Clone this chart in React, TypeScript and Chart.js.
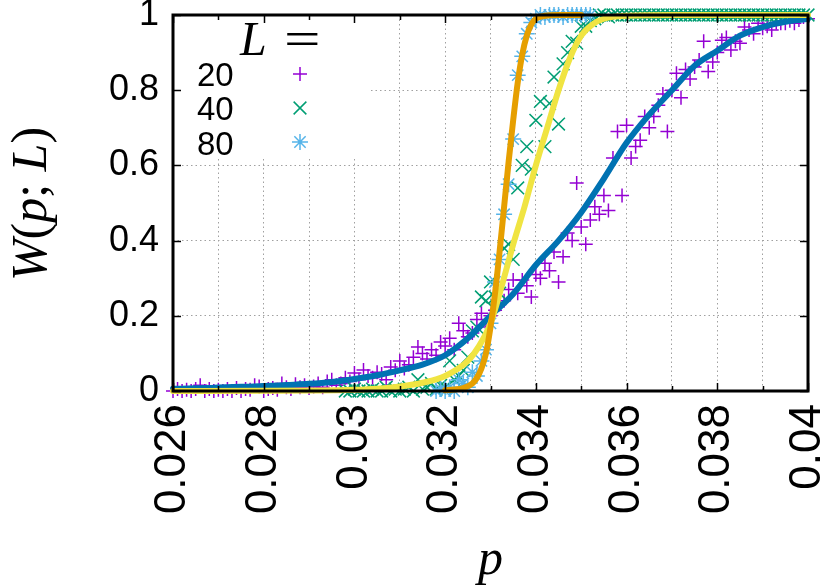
import React, { useEffect, useRef } from "react";
import { Chart, registerables } from "chart.js";

Chart.register(...registerables);

// ---------- data ----------
const P_STEP = 0.0001;

// L = 20 (purple +), p from 0.0260 to 0.0400
const P20_START = 0.026;
const W20 = [
  0, 0.005, 0, 0.003, 0, 0.005, 0.015, 0, 0.005, 0,
  0.003, 0, 0.005, 0, 0.008, 0, 0.005, 0.003, 0.015, 0.012,
  0, 0.005, 0.008, 0.003, 0.02, 0.01, 0.005, 0.018, 0.01, 0.015,
  0.008, 0.012, 0.02, 0.01, 0.025, 0.03, 0.015, 0.02, 0.035, 0.025,
  0.048, 0.03, 0.056, 0.04, 0.035, 0.05, 0.045, 0.03, 0.064, 0.055,
  0.08, 0.06, 0.07, 0.09, 0.117, 0.1, 0.085, 0.11, 0.095, 0.13,
  0.12, 0.14, 0.11, 0.18, 0.16, 0.144, 0.154, 0.19, 0.207, 0.17,
  0.2, 0.215, 0.23, 0.24, 0.27, 0.295, 0.26, 0.295, 0.28, 0.25,
  0.31, 0.3, 0.34, 0.32, 0.37, 0.29, 0.357, 0.42, 0.4, 0.553,
  0.436, 0.39, 0.455, 0.49, 0.47, 0.52, 0.48, 0.62, 0.69, 0.52,
  0.707, 0.62, 0.65, 0.667, 0.73, 0.7, 0.73, 0.76, 0.79, 0.69,
  0.8, 0.845, 0.78, 0.855, 0.83, 0.862, 0.88, 0.93, 0.85, 0.875,
  0.9, 0.933, 0.94, 0.907, 0.93, 0.925, 0.968, 0.96, 0.95, 0.978,
  0.965, 0.97, 0.96, 0.98, 0.978, 0.978, 0.985, 0.978, 0.987, 0.995,
  0.99,
];

// L = 40 (green x), p from 0.0298 to 0.0400
const P40_START = 0.0298;
const W40 = [
  0, 0,
  0.005, 0, 0, 0, 0.005, 0, 0, 0.01, 0, 0.005,
  0, 0.005, 0.01, 0, 0.03, 0.005, 0.01, 0.02, 0.005, 0.015,
  0.01, 0.08, 0.03, 0.04, 0.055, 0.09, 0.16, 0.17, 0.25, 0.24,
  0.29, 0.25, 0.26, 0.38, 0.39, 0.35, 0.54, 0.6, 0.65, 0.59,
  0.72, 0.77, 0.65, 0.765, 0.835, 0.71, 0.87, 0.9, 0.93, 0.925,
  0.97, 0.97, 0.985, 0.99, 1, 1, 0.995, 1, 1, 1,
  1, 1, 1, 1, 1, 1, 1, 1, 1, 1,
  1, 1, 1, 1, 1, 1, 1, 1, 1, 1,
  1, 1, 1, 1, 1, 1, 1, 1, 1, 1,
  1, 1, 1, 1, 1, 1, 1, 1, 1, 1,
  1,
];

// L = 80 (sky-blue *), p from 0.0318 to 0.0352
const P80_START = 0.0318;
const W80 = [
  0, 0.005, 0, 0.01, 0, 0.03, 0.02, 0.01, 0.05, 0.04,
  0.08, 0.11, 0.18, 0.29, 0.35, 0.47, 0.55, 0.67, 0.84, 0.89,
  0.95, 0.98, 0.99, 1, 0.995, 1, 1, 1, 0.995, 1,
  1, 1, 1, 1, 1,
];

// fitted curves
const FIT20_P = [0.026, 0.0265, 0.027, 0.0275, 0.028, 0.0285, 0.029, 0.0295, 0.03, 0.0305, 0.031, 0.0315, 0.032, 0.0325, 0.033, 0.0335, 0.034, 0.0345, 0.035, 0.0355, 0.036, 0.0365, 0.037, 0.0375, 0.038, 0.0385, 0.039, 0.0395, 0.04];
const FIT20_W = [0.006, 0.007, 0.009, 0.011, 0.013, 0.016, 0.019, 0.024, 0.032, 0.042, 0.055, 0.07, 0.095, 0.14, 0.2, 0.258, 0.335, 0.4, 0.475, 0.565, 0.66, 0.735, 0.8, 0.865, 0.905, 0.945, 0.968, 0.982, 0.99];

const FIT40_P = [0.026, 0.028, 0.029, 0.03, 0.0305, 0.031, 0.0315, 0.032, 0.0325, 0.03275, 0.033, 0.03325, 0.0335, 0.03375, 0.034, 0.03425, 0.0345, 0.03475, 0.035, 0.03525, 0.0355, 0.036, 0.037, 0.04];
const FIT40_W = [0, 0.0005, 0.001, 0.003, 0.006, 0.012, 0.022, 0.04, 0.08, 0.12, 0.18, 0.28, 0.39, 0.49, 0.6, 0.7, 0.8, 0.885, 0.945, 0.975, 0.99, 0.998, 1, 1];

const FIT80_P = [0.032, 0.0322, 0.0324, 0.0326, 0.0327, 0.0328, 0.0329, 0.033, 0.0331, 0.0332, 0.0333, 0.0334, 0.0335, 0.0336, 0.0337, 0.0338, 0.0339, 0.034, 0.0342, 0.0345, 0.035];
const FIT80_W = [0.002, 0.004, 0.008, 0.02, 0.035, 0.06, 0.1, 0.17, 0.26, 0.37, 0.49, 0.61, 0.72, 0.82, 0.895, 0.945, 0.975, 0.99, 0.998, 1, 1];

// axes
const X_GRID = [0.026, 0.027, 0.028, 0.029, 0.03, 0.031, 0.032, 0.033, 0.034, 0.035, 0.036, 0.037, 0.038, 0.039, 0.04];
const X_LABELS = ["0.026", "", "0.028", "", "0.03", "", "0.032", "", "0.034", "", "0.036", "", "0.038", "", "0.04"];
const Y_TICKS = [0, 0.2, 0.4, 0.6, 0.8, 1];
const Y_LABELS = ["0", "0.2", "0.4", "0.6", "0.8", "1"];
const LEGEND_SIZES = ["20", "40", "80"];

// ---------- helpers ----------
const COL20 = "#9400d3";
const COL40 = "#009e73";
const COL80 = "#56b4e9";
const FIT20_COL = "#0072b2";
const FIT40_COL = "#f0e442";
const FIT80_COL = "#e69f00";

const pGrid = (start: number, n: number) =>
  Array.from({ length: n }, (_, i) => Math.round((start + i * P_STEP) * 1e6) / 1e6);
const toPts = (ps: number[], ws: number[]) => ps.map((p, i) => ({ x: p, y: ws[i] }));

function drawMarker(ctx: CanvasRenderingContext2D, kind: string, x: number, y: number, r: number, color: string) {
  ctx.save();
  ctx.strokeStyle = color;
  ctx.lineWidth = 1.5;
  ctx.beginPath();
  if (kind === "cross" || kind === "star") {
    ctx.moveTo(x - r, y);
    ctx.lineTo(x + r, y);
    ctx.moveTo(x, y - r);
    ctx.lineTo(x, y + r);
  }
  if (kind === "crossRot" || kind === "star") {
    const d = r * Math.SQRT1_2;
    ctx.moveTo(x - d, y - d);
    ctx.lineTo(x + d, y + d);
    ctx.moveTo(x - d, y + d);
    ctx.lineTo(x + d, y - d);
  }
  ctx.stroke();
  ctx.restore();
}

const decorPlugin = {
  id: "decor",
  beforeDatasetsDraw(chart: any) {
    const { ctx, chartArea: a } = chart;
    ctx.save();
    ctx.fillStyle = "#ffffff";
    ctx.fillRect(a.left + 1, a.top + 1, 367 - a.left, 158 - a.top);
    ctx.restore();
  },
  afterDatasetsDraw(chart: any) {
    const { ctx, chartArea: a, scales } = chart;
    const xs = scales.x;
    const ys = scales.y;
    ctx.save();
    ctx.strokeStyle = "#000";
    ctx.lineWidth = 1.5;
    ctx.beginPath();
    X_GRID.forEach((v, i) => {
      const px = Math.round(xs.getPixelForValue(v)) + 0.5;
      const len = i % 2 === 0 ? 8 : 5;
      ctx.moveTo(px, a.bottom);
      ctx.lineTo(px, a.bottom - len);
      ctx.moveTo(px, a.top);
      ctx.lineTo(px, a.top + len);
    });
    Y_TICKS.forEach((v) => {
      const py = Math.round(ys.getPixelForValue(v)) + 0.5;
      ctx.moveTo(a.left, py);
      ctx.lineTo(a.left + 8, py);
      ctx.moveTo(a.right, py);
      ctx.lineTo(a.right - 8, py);
    });
    ctx.stroke();

    // frame
    ctx.lineWidth = 3;
    ctx.strokeRect(a.left, a.top, a.right - a.left, a.bottom - a.top);

    // legend
    ctx.fillStyle = "#000";
    ctx.textBaseline = "alphabetic";
    ctx.textAlign = "left";
    ctx.font = 'italic 48px "Liberation Serif"';
    ctx.fillText("L", 240, 55);
    ctx.save();
    ctx.translate(284, 55);
    ctx.scale(1.35, 1);
    ctx.font = '48px "Liberation Serif"';
    ctx.fillText("=", 0, 0);
    ctx.restore();

    ctx.font = '33px "Liberation Sans"';
    const rows = [86, 120, 155];
    const mk = [74, 108, 142];
    const kinds = ["cross", "crossRot", "star"];
    const radii = [7, 9, 8];
    const cols = [COL20, COL40, COL80];
    LEGEND_SIZES.forEach((s, i) => {
      ctx.fillText(s, 197, rows[i]);
      drawMarker(ctx, kinds[i], 300, mk[i], radii[i], cols[i]);
    });

    // x title
    ctx.font = 'italic 50px "Liberation Serif"';
    ctx.textAlign = "center";
    ctx.fillText("p", (a.left + a.right) / 2, 574);

    // y title (rotated)
    ctx.save();
    ctx.translate(46, 204);
    ctx.rotate(-Math.PI / 2);
    const pieces: [string, boolean][] = [["W", true], ["(", false], ["p", true], [";", false], [" ", false], ["L", true], [")", false]];
    const fontI = 'italic 50px "Liberation Serif"';
    const fontN = '50px "Liberation Serif"';
    let total = 0;
    pieces.forEach(([t, it]) => {
      ctx.font = it ? fontI : fontN;
      total += ctx.measureText(t).width;
    });
    let x = -total / 2;
    ctx.textAlign = "left";
    pieces.forEach(([t, it]) => {
      ctx.font = it ? fontI : fontN;
      ctx.fillText(t, x, 0);
      x += ctx.measureText(t).width;
    });
    ctx.restore();

    ctx.restore();
  },
};

export default function App() {
  const ref = useRef<HTMLCanvasElement>(null);

  useEffect(() => {
    if (!ref.current) return;
    const p20 = pGrid(P20_START, W20.length);
    const p40 = pGrid(P40_START, W40.length);
    const p80 = pGrid(P80_START, W80.length);

    const pointSet = (data: any[], style: string, r: number, color: string, order: number) => ({
      data,
      showLine: false,
      pointStyle: style,
      pointRadius: r,
      pointHoverRadius: r,
      pointBorderWidth: 1.5,
      pointBorderColor: color,
      pointBackgroundColor: color,
      borderColor: color,
      backgroundColor: color,
      clip: false,
      order,
    });
    const lineSet = (data: any[], color: string, order: number) => ({
      data,
      showLine: true,
      pointRadius: 0,
      pointHoverRadius: 0,
      borderColor: color,
      backgroundColor: color,
      borderWidth: 6,
      borderJoinStyle: "round",
      borderCapStyle: "round",
      cubicInterpolationMode: "monotone",
      clip: false,
      order,
    });

    const chart = new Chart(ref.current, {
      type: "scatter",
      data: {
        datasets: [
          lineSet(toPts(FIT80_P, FIT80_W), FIT80_COL, 1),
          lineSet(toPts(FIT40_P, FIT40_W), FIT40_COL, 2),
          lineSet(toPts(FIT20_P, FIT20_W), FIT20_COL, 3),
          pointSet(toPts(p80, W80), "star", 8, COL80, 4),
          pointSet(toPts(p40, W40), "crossRot", 9, COL40, 5),
          pointSet(toPts(p20, W20), "cross", 7, COL20, 6),
        ] as any,
      },
      options: {
        responsive: false,
        animation: false,
        events: [],
        layout: { padding: { left: 0, right: 22, top: 15, bottom: 0 } },
        plugins: { legend: { display: false }, tooltip: { enabled: false } },
        scales: {
          x: {
            type: "linear",
            min: 0.026,
            max: 0.04,
            afterFit: (s: any) => {
              s.height = 196;
              s.paddingLeft = 0;
              s.paddingRight = 0;
            },
            afterBuildTicks: (s: any) => {
              s.ticks = X_GRID.map((v) => ({ value: v }));
            },
            ticks: {
              autoSkip: false,
              minRotation: 90,
              maxRotation: 90,
              padding: 13,
              color: "#000",
              font: { family: "Liberation Sans", size: 44 },
              callback: (_v: any, i: number) => X_LABELS[i],
            },
            grid: { color: "#a0a0a0", lineWidth: 1, drawTicks: false },
            border: { display: false, dash: [1.5, 3] },
          },
          y: {
            type: "linear",
            min: 0,
            max: 1,
            afterFit: (s: any) => {
              s.width = 173;
              s.paddingTop = 0;
              s.paddingBottom = 0;
            },
            afterBuildTicks: (s: any) => {
              s.ticks = Y_TICKS.map((v) => ({ value: v }));
            },
            ticks: {
              autoSkip: false,
              padding: 14,
              color: "#000",
              font: { family: "Liberation Sans", size: 36 },
              callback: (_v: any, i: number) => Y_LABELS[i],
            },
            grid: { color: "#a0a0a0", lineWidth: 1, drawTicks: false },
            border: { display: false, dash: [1.5, 3] },
          },
        },
      } as any,
      plugins: [decorPlugin],
    });
    return () => chart.destroy();
  }, []);

  return (
    <div style={{ position: "fixed", left: 0, top: 0, width: 830, height: 587, background: "#fff" }}>
      <canvas ref={ref} width={830} height={587} style={{ display: "block" }} />
    </div>
  );
}
